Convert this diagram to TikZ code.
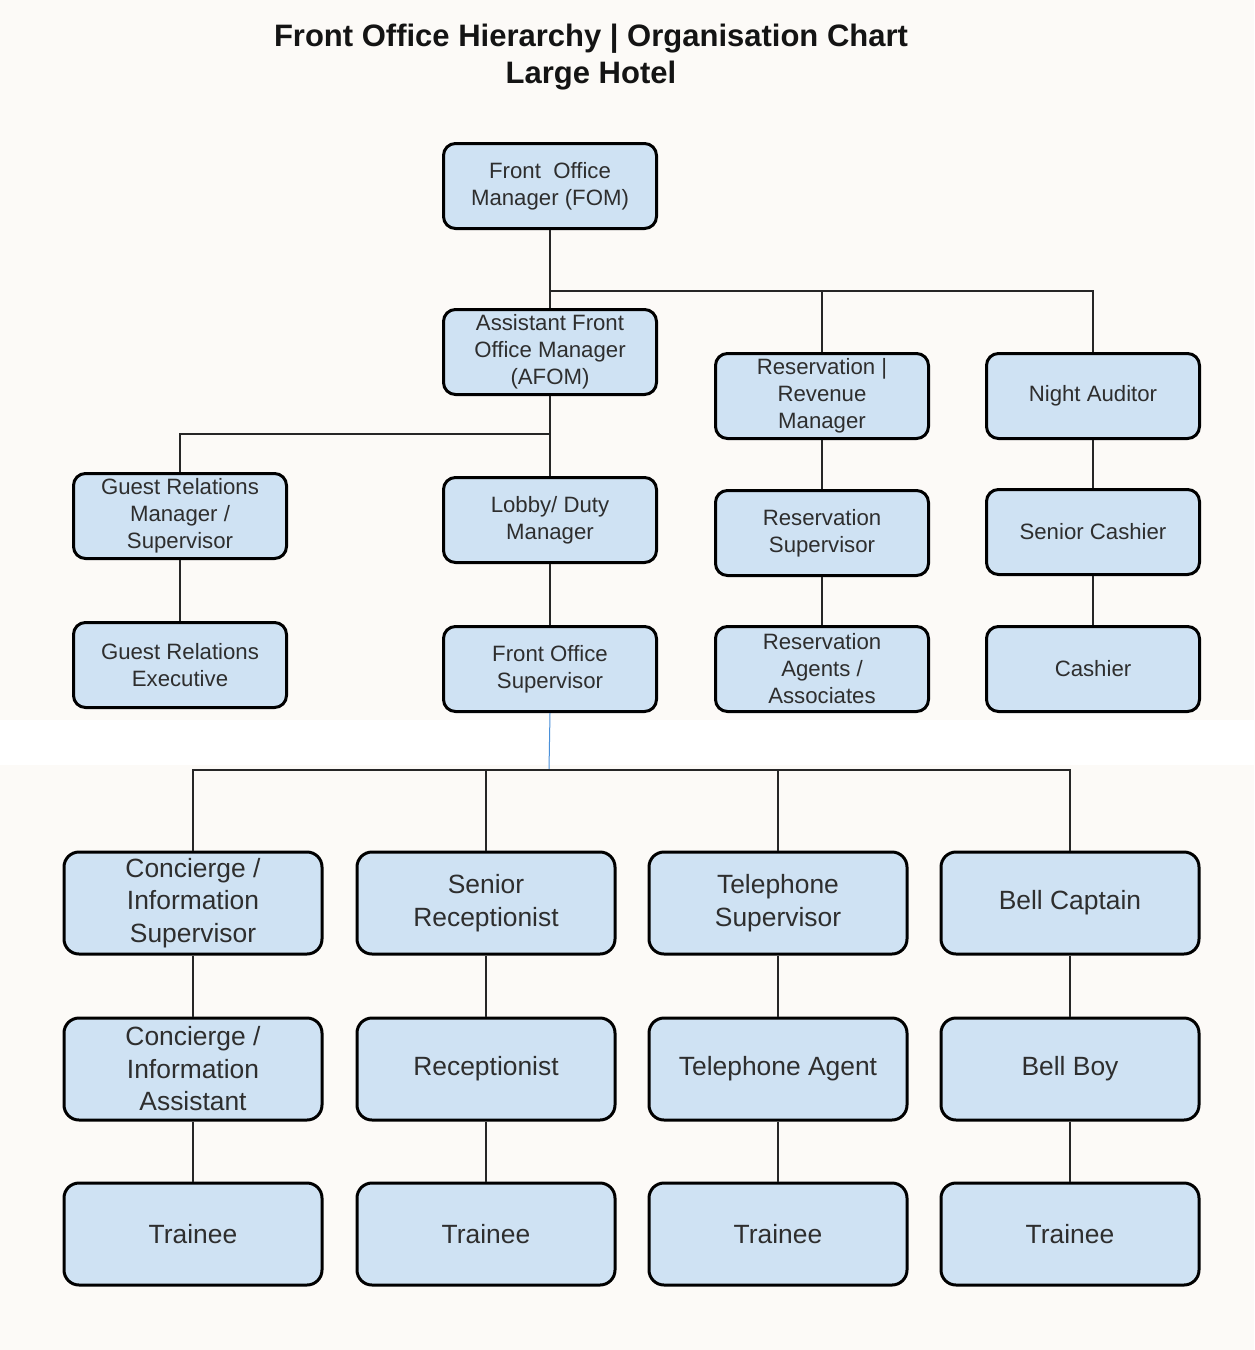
\documentclass[tikz,border=0pt]{standalone}
\usepackage{fontspec}
\setmainfont{Liberation Sans}
\usetikzlibrary{positioning}
\definecolor{boxfill}{HTML}{CFE2F3}
\definecolor{txt}{HTML}{2E2E2E}
\definecolor{bg}{HTML}{FCFAF7}
\definecolor{bluelink}{HTML}{4A90D9}
\tikzset{
  topbox/.style={draw=black, line width=3pt, fill=boxfill, rounded corners=12pt,
    minimum width=213pt, minimum height=85pt, inner sep=0pt, align=center,
    text=txt, font=\fontsize{22.2}{27}\selectfont},
  botbox/.style={draw=black, line width=3pt, fill=boxfill, rounded corners=15pt,
    minimum width=258pt, minimum height=102pt, inner sep=0pt, align=center,
    text=txt, font=\fontsize{26.4}{32.5}\selectfont},
  link/.style={draw=black!85, line width=2pt},
}
\begin{document}
\begin{tikzpicture}[x=1pt,y=-1pt]
\fill[bg] (0,0) rectangle (1254,1350);
\fill[white] (0,720) rectangle (1254,765);
\useasboundingbox (0,0) rectangle (1254,1350);

\node[font=\bfseries\fontsize{31}{37}\selectfont, text=black!92, align=center] (title) at (591,57)
  {Front Office Hierarchy | Organisation Chart\\Large Hotel};

% top section
\node[topbox] (fom)  at (550,186) {Front\ \ Office\\Manager (FOM)};
\node[topbox] (afom) at (550,352) {Assistant Front\\Office Manager\\(AFOM)};
\node[topbox] (rrm)  at (822,396) {Reservation |\\Revenue\\Manager};
\node[topbox] (na)   at (1093,396) {Night Auditor};
\node[topbox] (grm)  at (180,516) {Guest Relations\\Manager /\\Supervisor};
\node[topbox] (ldm)  at (550,520) {Lobby/ Duty\\Manager};
\node[topbox] (rs)   at (822,533) {Reservation\\Supervisor};
\node[topbox] (sc)   at (1093,532) {Senior Cashier};
\node[topbox] (gre)  at (180,665) {Guest Relations\\Executive};
\node[topbox] (fos)  at (550,669) {Front Office\\Supervisor};
\node[topbox] (ra)   at (822,669) {Reservation\\Agents /\\Associates};
\node[topbox] (ca)   at (1093,669) {Cashier};

% bottom section
\node[botbox] (cis) at (193,903) {Concierge /\\Information\\Supervisor};
\node[botbox] (sr)  at (486,903) {Senior\\Receptionist};
\node[botbox] (ts)  at (778,903) {Telephone\\Supervisor};
\node[botbox] (bc)  at (1070,903) {Bell Captain};
\node[botbox] (cia) at (193,1069) {Concierge /\\Information\\Assistant};
\node[botbox] (rec) at (486,1069) {Receptionist};
\node[botbox] (ta)  at (778,1069) {Telephone Agent};
\node[botbox] (bb)  at (1070,1069) {Bell Boy};
\node[botbox] (t1)  at (193,1234) {Trainee};
\node[botbox] (t2)  at (486,1234) {Trainee};
\node[botbox] (t3)  at (778,1234) {Trainee};
\node[botbox] (t4)  at (1070,1234) {Trainee};

% junctions
\coordinate (j1) at (550,291);
\coordinate (j2) at (550,434);
\coordinate (j3) at (549,770);

% connectors top
\draw[link] (fom.south) -- (afom.north);
\draw[link] (j1) -| (rrm.north);
\draw[link] (j1) -| (na.north);
\draw[link] (afom.south) -- (ldm.north);
\draw[link] (j2) -| (grm.north);
\draw[link] (grm.south) -- (gre.north);
\draw[link] (ldm.south) -- (fos.north);
\draw[link] (rrm.south) -- (rs.north);
\draw[link] (rs.south) -- (ra.north);
\draw[link] (na.south) -- (sc.north);
\draw[link] (sc.south) -- (ca.north);

% connector to bottom section
\draw[bluelink, line width=1pt] (fos.south) -- (j3);
\draw[link] (j3) -| (cis.north);
\draw[link] (j3) -| (sr.north);
\draw[link] (j3) -| (ts.north);
\draw[link] (j3) -| (bc.north);

% connectors bottom
\draw[link] (cis.south) -- (cia.north);
\draw[link] (cia.south) -- (t1.north);
\draw[link] (sr.south) -- (rec.north);
\draw[link] (rec.south) -- (t2.north);
\draw[link] (ts.south) -- (ta.north);
\draw[link] (ta.south) -- (t3.north);
\draw[link] (bc.south) -- (bb.north);
\draw[link] (bb.south) -- (t4.north);
\end{tikzpicture}
\end{document}
